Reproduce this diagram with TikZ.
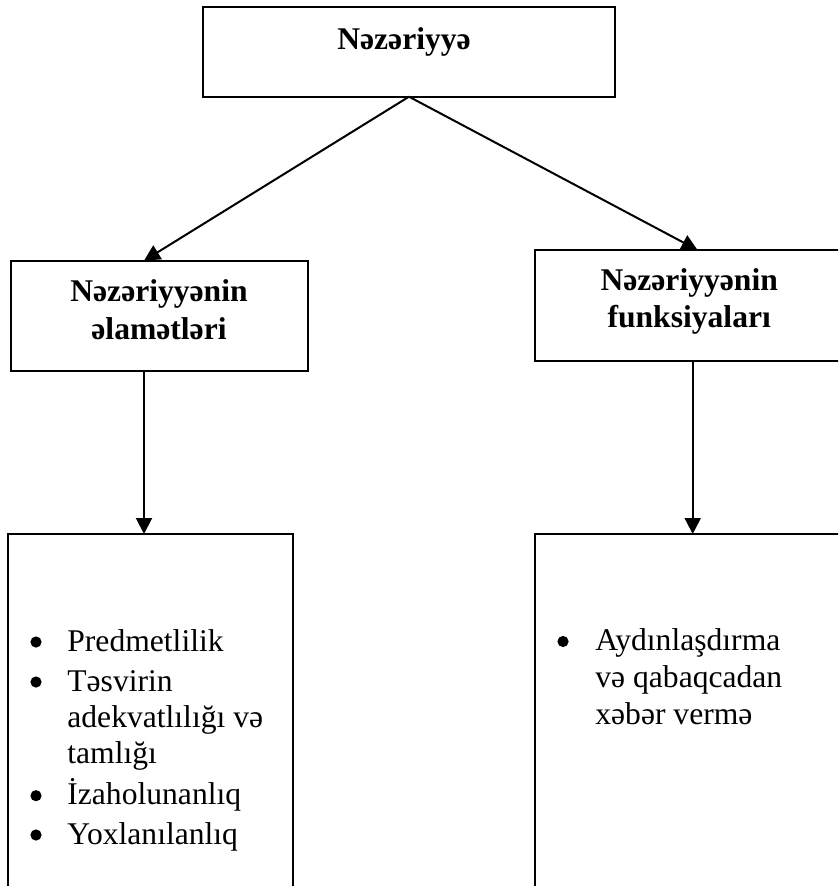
\documentclass[tikz,border=0pt]{standalone}
\usepackage{fontspec}
\setmainfont{Liberation Serif}
\usetikzlibrary{arrows.meta,fit}
\begin{document}
\begin{tikzpicture}[x=0.5pt,y=-0.5pt,
  box/.style={draw, line width=1pt, inner sep=0pt, outer sep=0pt},
  head/.style={font=\bfseries\fontsize{15.8}{19}\selectfont, inner sep=0pt, anchor=base},
  body/.style={font=\fontsize{15.8}{19}\selectfont, inner sep=0pt, anchor=base west},
  bul/.style={circle, fill=black, inner sep=0pt, minimum size=5.6pt},
  conn/.style={line width=1pt, -{Triangle[length=8pt,width=8pt]}}]
\useasboundingbox (0,0) rectangle (838,886);
\clip (0,0) rectangle (838,886);
% boxes
\node[box, fit={(203,7.3) (615,96.7)}] (top) {};
\node[box, fit={(11,260.7) (308,370.7)}] (lm) {};
\node[box, fit={(534.5,250) (843,360.7)}] (rm) {};
\node[box, fit={(8,534) (293,900)}] (lb) {};
\node[box, fit={(535,534) (845,900)}] (rb) {};
% headings
\node[head] (t1) at (404,49.3) {Nəzəriyyə};
\node[head] (l1) at (159,301.7) {Nəzəriyyənin};
\node[head] (l2) at (159,340) {əlamətləri};
\node[head] (r1) at (689.2,290.7) {Nəzəriyyənin};
\node[head] (r2) at (689.2,328) {funksiyaları};
% left list
\node[bul] (b1) at (36,642) {};
\node[body] (p1) at (67,651) {Predmetlilik};
\node[bul] (b2) at (36,682) {};
\node[body] (p2) at (67,691) {Təsvirin};
\node[body] (p3) at (67,727.5) {adekvatlılığı və};
\node[body] (p4) at (67,763.4) {tamlığı};
\node[bul] (b5) at (36,795.7) {};
\node[body] (p5) at (67,804.7) {İzaholunanlıq};
\node[bul] (b6) at (36,835) {};
\node[body] (p6) at (67,844) {Yoxlanılanlıq};
% right list
\node[bul] (c1) at (563,641.5) {};
\node[body] (q1) at (595,650) {Aydınlaşdırma};
\node[body] (q2) at (595,687) {və qabaqcadan};
\node[body] (q3) at (595,724) {xəbər vermə};
% connectors
\coordinate (lmt) at (144,260.7);
\coordinate (rmt) at (697.5,250);
\coordinate (lbt) at (144,534);
\coordinate (rbt) at (692.7,534);
\draw[conn] (top.south) -- (lmt);
\draw[conn] (top.south) -- (rmt);
\draw[conn] (lm.south -| lbt) -- (lbt);
\draw[conn] (rm.south -| rbt) -- (rbt);
\end{tikzpicture}
\end{document}
